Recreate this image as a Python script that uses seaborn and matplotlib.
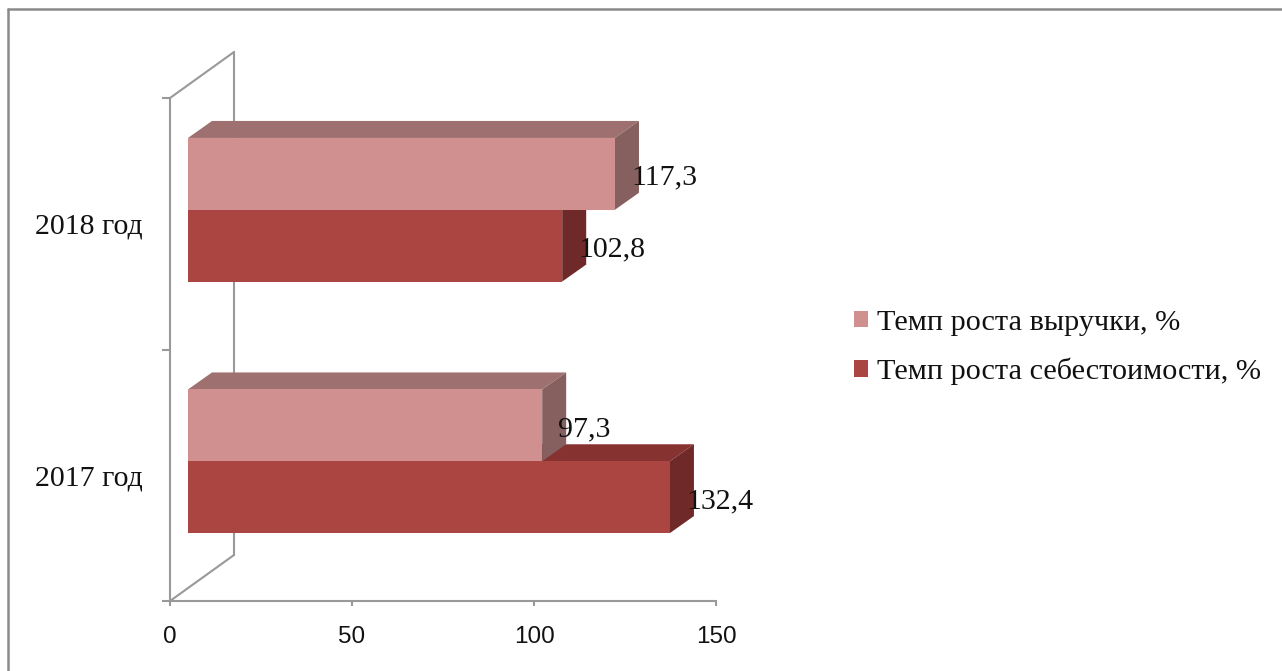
import numpy as np
import pandas as pd
import matplotlib
matplotlib.use('Agg')
import matplotlib.pyplot as plt
import seaborn as sns
from matplotlib.patches import Polygon, Patch
from matplotlib.lines import Line2D
from matplotlib.transforms import IdentityTransform, ScaledTranslation

# ---------------- data ----------------
categories = ['2018 год', '2017 год']
series = ['Темп роста выручки, %', 'Темп роста себестоимости, %']
revenue_growth = [117.3, 97.3]
cost_growth = [102.8, 132.4]
x_ticks = [0, 50, 100, 150]

front_colors = ['#D19090', '#AA4542']
top_colors = ['#9E706F', '#863231']
side_colors = ['#85605F', '#6E2928']

df = pd.DataFrame({
    'Категория': categories * 2,
    'Показатель': [series[0]] * len(categories) + [series[1]] * len(categories),
    'Значение': revenue_growth + cost_growth,
})

# ---------------- figure ----------------
W, H, DPI = 1282, 671, 100
sns.set_style('white')
plt.rcParams['font.family'] = ['Liberation Serif', 'DejaVu Serif']

AX_L, AX_R, AX_T, AX_B = 170, 716, 98, 601
fig = plt.figure(figsize=(W / DPI, H / DPI), dpi=DPI)
ax = fig.add_axes([AX_L / W, 1 - AX_B / H, (AX_R - AX_L) / W, (AX_B - AX_T) / H])

sns.barplot(data=df, y='Категория', x='Значение', hue='Показатель',
            order=categories, hue_order=series, palette=front_colors,
            orient='h', width=0.571, saturation=1, linewidth=0,
            ax=ax, legend=False)

ax.set_xlim(0, 150)
ax.set_ylim(1.5, -0.5)

wall_color = '#999999'
lw = 1.5
text_color = '#111111'
# 3D geometry (pixels)
front_dx, front_dy = 18, 14     # bar front face relative to the axis plane
depth_dx, depth_dy = 24, 17     # bar depth
wall_dx, wall_dy = 64, 46       # back wall

fig.canvas.draw()
front_shift = ScaledTranslation(front_dx / DPI, front_dy / DPI, fig.dpi_scale_trans)
n_cat = len(categories)
bars = list(ax.patches)
for i, p in enumerate(bars):
    s = i // n_cat
    p.set_transform(ax.transData + front_shift)
    p.set_zorder(3)
    p.set_clip_on(False)
    x0, y0, w, h = p.get_x(), p.get_y(), p.get_width(), p.get_height()
    (ax0, ay0), (ax1, ay1) = ax.transData.transform([(x0, y0), (x0 + w, y0 + h)])
    lx, rx = min(ax0, ax1) + front_dx, max(ax0, ax1) + front_dx
    ty, by = max(ay0, ay1) + front_dy, min(ay0, ay1) + front_dy
    zf = 2 if s == 0 else 1.5
    top = Polygon([(lx, ty), (rx, ty), (rx + depth_dx, ty + depth_dy), (lx + depth_dx, ty + depth_dy)],
                  closed=True, facecolor=top_colors[s], edgecolor='none',
                  transform=IdentityTransform(), zorder=zf, clip_on=False)
    side = Polygon([(rx, ty), (rx, by), (rx + depth_dx, by + depth_dy), (rx + depth_dx, ty + depth_dy)],
                   closed=True, facecolor=side_colors[s], edgecolor='none',
                   transform=IdentityTransform(), zorder=zf, clip_on=False)
    ax.add_artist(top)
    ax.add_artist(side)
    val = x0 + w
    ax.annotate(f'{val:.1f}'.replace('.', ','), xy=(val, y0 + h / 2), xycoords='data',
                xytext=(front_dx + 16, front_dy - 4), textcoords='offset pixels',
                ha='left', va='center', fontsize=21.5, color=text_color,
                family='Liberation Serif', zorder=6, annotation_clip=False)

# back wall lines
for yv in (-0.5, 1.5):
    ax.annotate('', xy=(0, yv), xycoords='data', xytext=(wall_dx, wall_dy),
                textcoords='offset pixels',
                arrowprops=dict(arrowstyle='-', color=wall_color, lw=lw, shrinkA=0, shrinkB=0),
                annotation_clip=False, zorder=0)
ax.plot([0, 0], [-0.5, 1.5], color=wall_color, lw=lw, clip_on=False, zorder=0,
        transform=ax.transData + ScaledTranslation(wall_dx / DPI, wall_dy / DPI, fig.dpi_scale_trans))

# spines / ticks
for side_name in ('top', 'right'):
    ax.spines[side_name].set_visible(False)
for side_name in ('left', 'bottom'):
    ax.spines[side_name].set_color(wall_color)
    ax.spines[side_name].set_linewidth(lw)
    ax.spines[side_name].set_zorder(0)

ax.set_xticks(x_ticks)
ax.set_xticklabels([str(t) for t in x_ticks])
ax.tick_params(axis='x', bottom=True, length=3.6, width=lw, color=wall_color,
               labelsize=17.5, pad=14.5, labelcolor=text_color)
for lab in ax.get_xticklabels():
    lab.set_fontfamily('Liberation Sans')

ax.set_yticks(range(n_cat))
ax.set_yticklabels(categories)
ax.tick_params(axis='y', which='major', left=False, length=0, pad=19.5, labelsize=21.5,
               labelcolor=text_color)
ax.set_yticks([-0.5, 0.5, 1.5], minor=True)
ax.tick_params(axis='y', which='minor', left=True, length=5.8, width=lw, color=wall_color)
ax.set_xlabel('')
ax.set_ylabel('')

# legend
handles = [Patch(facecolor=c, edgecolor='none') for c in front_colors]
leg = fig.legend(handles, series, loc='center left', bbox_to_anchor=(854 / W, 1 - 347.5 / H),
                 frameon=False, fontsize=21.8, handlelength=0.45, handleheight=0.45,
                 handletextpad=0.3, labelspacing=0.72, borderpad=0, borderaxespad=0)
for t in leg.get_texts():
    t.set_color(text_color)

# outer border (partially visible)
border_color = '#8a8a8a'
fig.add_artist(Line2D([8 / W, 8 / W], [0, 1 - 9 / H], transform=fig.transFigure,
                      color=border_color, lw=1.8))
fig.add_artist(Line2D([8 / W, 1], [1 - 9 / H, 1 - 9 / H], transform=fig.transFigure,
                      color=border_color, lw=1.8))

fig.savefig('out.png', dpi=DPI)
